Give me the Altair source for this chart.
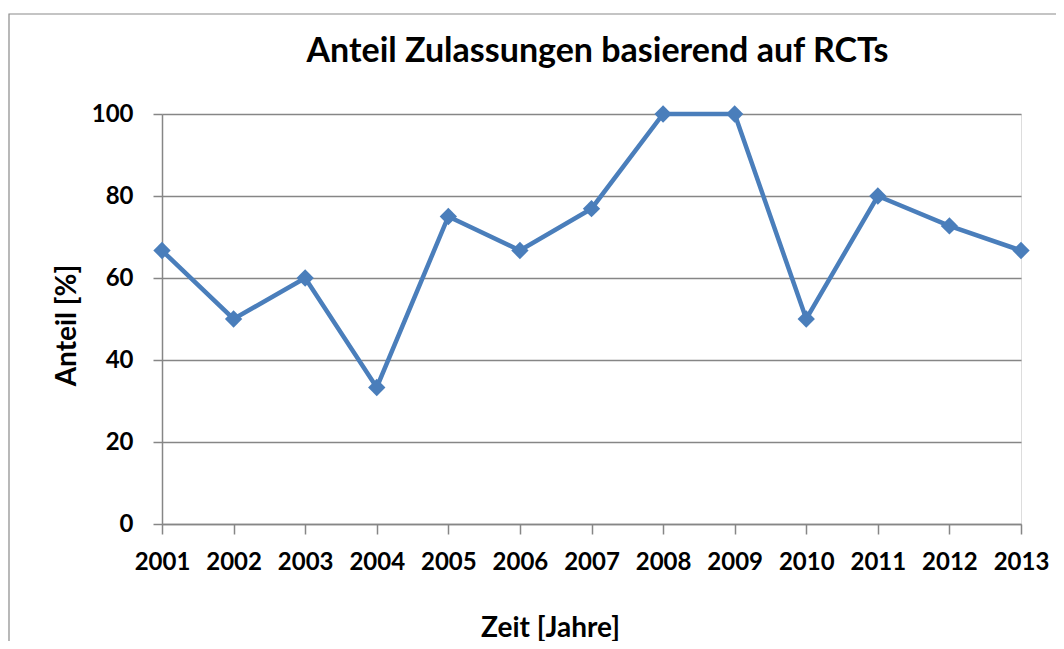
import altair as alt
import pandas as pd

years = ["2001", "2002", "2003", "2004", "2005", "2006", "2007",
         "2008", "2009", "2010", "2011", "2012", "2013"]
anteil = [66.7, 50.0, 60.0, 33.3, 75.0, 66.7, 76.9,
          100.0, 100.0, 50.0, 80.0, 72.7, 66.7]

df = pd.DataFrame({"Jahr": years, "Anteil": anteil})

FONT = "Lato"
BLUE = "#4A7EBB"
GRID = "#868686"

base = alt.Chart(df)

border = base.mark_rect(
    fill="white", fillOpacity=0, stroke="#8a8a8a", strokeWidth=1.2
).encode(
    x=alt.value(-153), y=alt.value(-100),
    x2=alt.value(1100), y2=alt.value(600)
).transform_filter(alt.datum.Jahr == "2001")

line = base.mark_line(
    color=BLUE, strokeWidth=4.5,
    point=alt.OverlayMarkDef(shape="diamond", size=300, filled=True,
                             color=BLUE, opacity=1)
).encode(
    x=alt.X("Jahr:O",
            scale=alt.Scale(type="point", padding=0),
            axis=alt.Axis(
                title="Zeit [Jahre]", labelAngle=0,
                labelFont=FONT, labelFontSize=24, labelFontWeight="bold",
                labelColor="black", labelPadding=16,
                titleFont=FONT, titleFontSize=28, titleFontWeight="bold",
                titleColor="black", titleX=388, titleY=104,
                titleBaseline="middle", titleAlign="center",
                domainColor=GRID, domainWidth=1.5,
                tickColor=GRID, tickWidth=1.5, tickSize=10,
                grid=False)),
    y=alt.Y("Anteil:Q",
            scale=alt.Scale(domain=[0, 100], nice=False),
            axis=alt.Axis(
                title="Anteil [%]", values=[0, 20, 40, 60, 80, 100],
                labelFont=FONT, labelFontSize=24, labelFontWeight="bold",
                labelColor="black", labelPadding=20,
                titleFont=FONT, titleFontSize=28, titleFontWeight="bold",
                titleColor="black", titleX=-95, titleY=211,
                titleBaseline="middle", titleAlign="center", titleAngle=-90,
                domainColor=GRID, domainWidth=1.5,
                tickColor=GRID, tickWidth=1.5, tickSize=9,
                grid=True, gridColor=GRID, gridWidth=1.5))
)

chart = alt.layer(border, line).properties(
    width=859, height=410,
    padding={"left": 154, "top": 106, "right": 35, "bottom": 117},
    autosize=alt.AutoSizeParams(type="none"),
    title=alt.TitleParams(
        "Anteil Zulassungen basierend auf RCTs",
        font=FONT, fontSize=34, fontWeight="bold", color="black",
        anchor="middle", dx=6, offset=0, dy=56)
).configure_view(stroke=None).configure(background="white")

chart.save("out.html", embed_options={"renderer": "svg", "actions": False})
